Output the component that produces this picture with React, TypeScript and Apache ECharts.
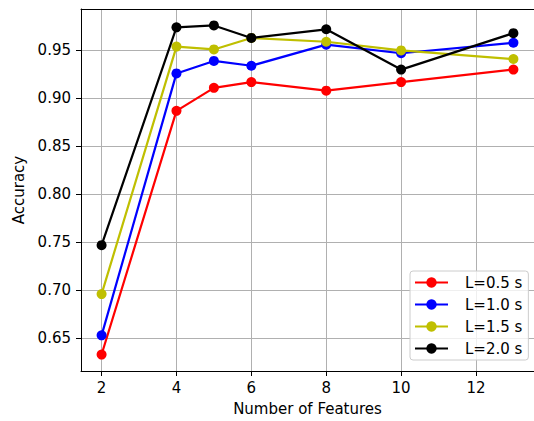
import React, { useEffect, useRef } from "react";
import * as echarts from "echarts";

const features = [2, 4, 5, 6, 8, 10, 13];
const l05 = [0.633, 0.887, 0.911, 0.917, 0.908, 0.917, 0.930];
const l10 = [0.653, 0.926, 0.939, 0.934, 0.956, 0.947, 0.958];
const l15 = [0.696, 0.954, 0.951, 0.963, 0.959, 0.950, 0.941];
const l20 = [0.747, 0.974, 0.976, 0.963, 0.972, 0.930, 0.968];
const seriesNames = ["L=0.5 s", "L=1.0 s", "L=1.5 s", "L=2.0 s"];
const seriesColors = ["#ff0000", "#0000ff", "#bfbf00", "#000000"];
const xTicks = [2, 4, 6, 8, 10, 12];
const yTicks = [0.65, 0.7, 0.75, 0.8, 0.85, 0.9, 0.95];

const FONT = "DejaVu Sans";

export default function App() {
  const ref = useRef<HTMLDivElement>(null);
  useEffect(() => {
    if (!ref.current) return;
    const chart = echarts.init(ref.current, undefined, { renderer: "svg" });
    const all = [l05, l10, l15, l20];
    const flat = all.flat();
    const dmin = Math.min(...flat);
    const dmax = Math.max(...flat);
    const pad = (dmax - dmin) * 0.05;
    const xpad = (features[features.length - 1] - features[0]) * 0.05;
    chart.setOption({
      animation: false,
      backgroundColor: "#ffffff",
      grid: { left: 81, top: 9, right: -4, bottom: 47, containLabel: false },
      legend: {
        orient: "vertical",
        left: 410,
        top: 271,
        data: seriesNames,
        itemWidth: 33,
        itemHeight: 13,
        itemGap: 7,
        padding: [4, 6, 4, 4],
        backgroundColor: "rgba(255,255,255,0.8)",
        borderColor: "#cccccc",
        borderWidth: 1,
        borderRadius: 3,
        textStyle: {
          fontFamily: FONT,
          fontSize: 15,
          color: "#000",
          padding: [0, 0, 0, 12],
        },
      },
      xAxis: [
        {
          type: "value",
          min: features[0] - xpad,
          max: features[features.length - 1] + xpad,
          name: "Number of Features",
          nameLocation: "middle",
          nameGap: 30,
          nameTextStyle: { fontFamily: FONT, fontSize: 15, color: "#000" },
          axisLine: { show: true, onZero: false, lineStyle: { color: "#000", width: 1 } },
          axisTick: { show: true, length: 5, lineStyle: { color: "#000" }, customValues: xTicks },
          axisLabel: { fontFamily: FONT, fontSize: 15, color: "#000", margin: 9, customValues: xTicks },
          splitLine: { show: true, lineStyle: { color: "#b0b0b0", width: 1 } },
        },
        {
          type: "value",
          position: "top",
          min: features[0] - xpad,
          max: features[features.length - 1] + xpad,
          axisLine: { show: true, onZero: false, lineStyle: { color: "#000", width: 1 } },
          axisTick: { show: false },
          axisLabel: { show: false },
          splitLine: { show: false },
        },
      ],
      yAxis: {
        type: "value",
        min: dmin - pad,
        max: dmax + pad,
        name: "Accuracy",
        nameLocation: "middle",
        nameGap: 49,
        nameTextStyle: { fontFamily: FONT, fontSize: 15, color: "#000" },
        axisLine: { show: true, onZero: false, lineStyle: { color: "#000", width: 1 } },
        axisTick: { show: true, length: 5, lineStyle: { color: "#000" }, customValues: yTicks },
        axisLabel: {
          fontFamily: FONT,
          fontSize: 15,
          color: "#000",
          margin: 10,
          customValues: yTicks,
          formatter: (v: number) => v.toFixed(2),
        },
        splitLine: { show: true, lineStyle: { color: "#b0b0b0", width: 1 } },
      },
      series: all.map((vals, i) => ({
        name: seriesNames[i],
        type: "line",
        data: features.map((f, j) => [f, vals[j]]),
        symbol: "circle",
        symbolSize: 10,
        showSymbol: true,
        clip: false,
        color: seriesColors[i],
        lineStyle: { color: seriesColors[i], width: 2.2 },
        itemStyle: { color: seriesColors[i] },
        z: 2 + i,
      })),
    });
    return () => chart.dispose();
  }, []);
  return (
    <div
      ref={ref}
      style={{ position: "fixed", left: 0, top: 0, width: 534, height: 421 }}
    />
  );
}
